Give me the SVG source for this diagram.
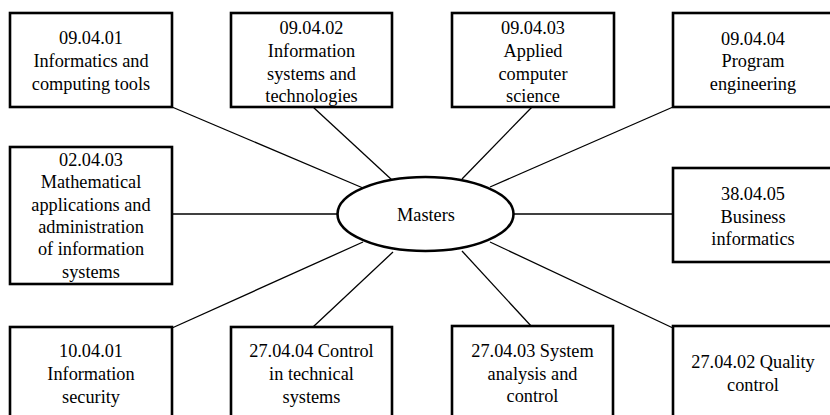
<svg xmlns="http://www.w3.org/2000/svg" width="830" height="415" viewBox="0 0 830 415" font-family="Liberation Serif, DejaVu Serif, serif" font-size="18.3">
<style>
.box{fill:#fff;stroke:#000;stroke-width:2.6}
.ell{fill:#fff;stroke:#000;stroke-width:2.6}
.c{stroke:#000;stroke-width:1.3;fill:none}
.t{fill:#000;text-anchor:middle}
</style>
<rect width="830" height="415" fill="#fff"/>
<g id="connectors">
<line class="c" x1="172" y1="107" x2="363" y2="188"/>
<line class="c" x1="313" y1="107" x2="392" y2="180"/>
<line class="c" x1="532" y1="107" x2="462" y2="179"/>
<line class="c" x1="673" y1="107" x2="490" y2="187"/>
<line class="c" x1="172" y1="214" x2="338" y2="214"/>
<line class="c" x1="514" y1="214" x2="673" y2="214"/>
<line class="c" x1="172" y1="328" x2="363" y2="242"/>
<line class="c" x1="313" y1="327" x2="393" y2="252"/>
<line class="c" x1="532" y1="327" x2="462" y2="251"/>
<line class="c" x1="673" y1="328" x2="490" y2="242"/>
</g>
<g id="masters">
<ellipse class="ell" cx="425.5" cy="214" rx="88" ry="37"/>
<text class="t" x="426" y="221">Masters</text>
</g>
<g id="n090401">
<rect class="box" x="10" y="13" width="162" height="94"/>
<text class="t" x="91" y="44">09.04.01</text>
<text class="t" x="91" y="67">Informatics and</text>
<text class="t" x="91" y="90">computing tools</text>
</g>
<g id="n090402">
<rect class="box" x="231" y="13" width="161" height="94"/>
<text class="t" x="311.5" y="34">09.04.02</text>
<text class="t" x="311.5" y="57">Information</text>
<text class="t" x="311.5" y="80">systems and</text>
<text class="t" x="311.5" y="102">technologies</text>
</g>
<g id="n090403">
<rect class="box" x="452" y="13" width="162" height="94"/>
<text class="t" x="533" y="34">09.04.03</text>
<text class="t" x="533" y="57">Applied</text>
<text class="t" x="533" y="80">computer</text>
<text class="t" x="533" y="102">science</text>
</g>
<g id="n090404">
<rect class="box" x="673" y="13" width="162" height="94"/>
<text class="t" x="753" y="45">09.04.04</text>
<text class="t" x="753" y="67">Program</text>
<text class="t" x="753" y="90">engineering</text>
</g>
<g id="n020403">
<rect class="box" x="10" y="147" width="162" height="137"/>
<text class="t" x="91" y="166">02.04.03</text>
<text class="t" x="91" y="188.3">Mathematical</text>
<text class="t" x="91" y="210.6">applications and</text>
<text class="t" x="91" y="232.9">administration</text>
<text class="t" x="91" y="255.2">of information</text>
<text class="t" x="91" y="277.5">systems</text>
</g>
<g id="n380405">
<rect class="box" x="673" y="168" width="162" height="94"/>
<text class="t" x="753" y="200">38.04.05</text>
<text class="t" x="753" y="223">Business</text>
<text class="t" x="753" y="245">informatics</text>
</g>
<g id="n100401">
<rect class="box" x="10" y="327" width="162" height="100"/>
<text class="t" x="91" y="357">10.04.01</text>
<text class="t" x="91" y="380">Information</text>
<text class="t" x="91" y="403">security</text>
</g>
<g id="n270404">
<rect class="box" x="231" y="327" width="161" height="100"/>
<text class="t" x="311.5" y="357">27.04.04 Control</text>
<text class="t" x="311.5" y="380">in technical</text>
<text class="t" x="311.5" y="403">systems</text>
</g>
<g id="n270403">
<rect class="box" x="452" y="326" width="161" height="100"/>
<text class="t" x="532.5" y="357">27.04.03 System</text>
<text class="t" x="532.5" y="380">analysis and</text>
<text class="t" x="532.5" y="402">control</text>
</g>
<g id="n270402">
<rect class="box" x="673" y="326" width="162" height="100"/>
<text class="t" x="753" y="368">27.04.02 Quality</text>
<text class="t" x="753" y="391">control</text>
</g>
</svg>
